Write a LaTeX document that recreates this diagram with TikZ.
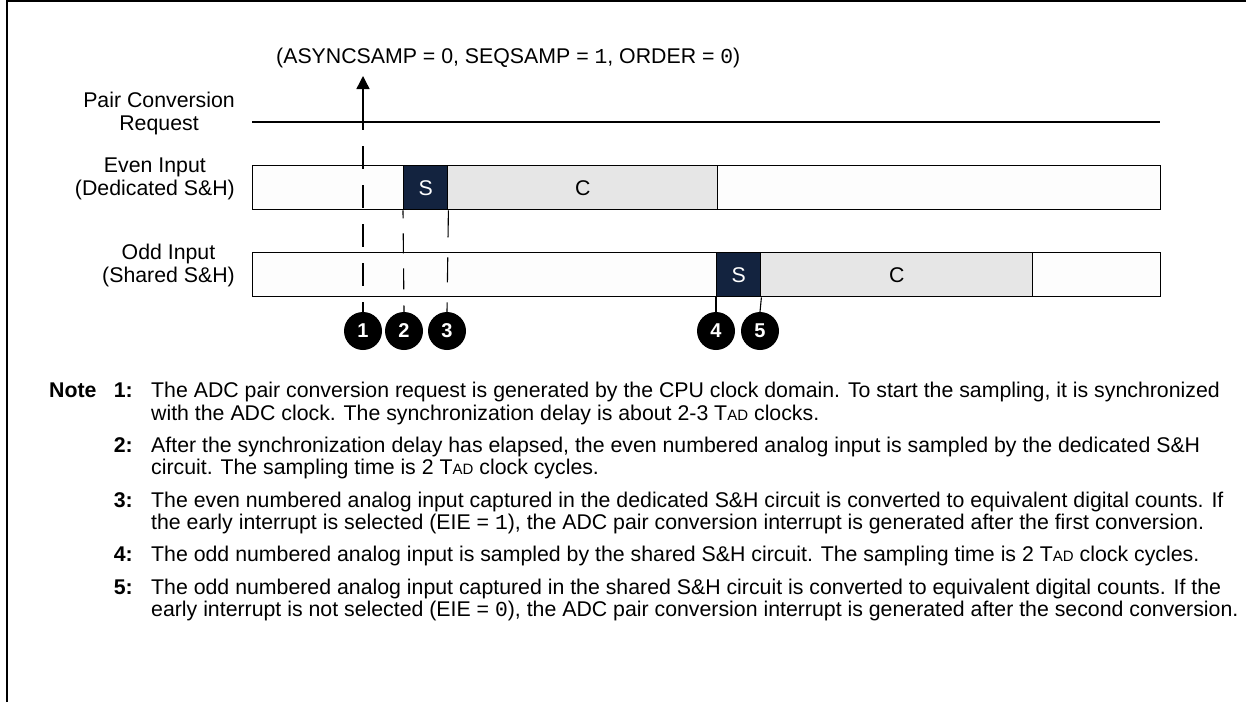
\documentclass[tikz,border=0pt]{standalone}
\usepackage{fontspec}
\setmainfont{Liberation Sans}
\setmonofont{Liberation Mono}
\usetikzlibrary{arrows.meta}
\definecolor{sboxfill}{HTML}{13233F}
\definecolor{cboxfill}{HTML}{E6E6E6}
\definecolor{idlefill}{HTML}{FDFDFD}
% T with a small-caps "AD" suffix
\newcommand\tadclk{T{\fontsize{15}{15}\selectfont AD}}

\tikzset{
  txt/.style={font=\fontsize{21.3}{23}\selectfont, inner sep=0pt},
  rowlabel/.style={txt, align=center, anchor=east, font=\fontsize{21.3}{23}\selectfont},
  track/.style={draw, line width=1.4pt, fill=idlefill, inner sep=0pt, minimum height=44pt, anchor=north west},
  samp/.style={draw, line width=1.4pt, fill=sboxfill, text=white, inner sep=0pt, minimum height=44pt, anchor=north west, txt},
  conv/.style={draw, line width=1.4pt, fill=cboxfill, inner sep=0pt, minimum height=44pt, anchor=north west, txt},
  marker/.style={circle, fill=black, text=white, inner sep=0pt, minimum size=38pt, font=\bfseries\fontsize{20}{20}\selectfont},
  guide/.style={line width=1.1pt, dash pattern=on 23pt off 16pt},
  tick/.style={line width=1.1pt},
  notenum/.style={txt, anchor=base east, font=\bfseries\fontsize{21.3}{23}\selectfont},
  noteline/.style={txt, anchor=base west},
}

\begin{document}
\begin{tikzpicture}[x=1pt,y=-1pt]
\useasboundingbox (0,0) rectangle (1246,702);

% frame edges
\draw[line width=2pt] (7,702) -- (7,1) -- (1246,1);

% header
\node[txt, anchor=base west] (hdr) at (276,63)
  {(ASYNCSAMP = 0, SEQSAMP = \texttt{1}, ORDER = \texttt{0})};

% row labels
\node[rowlabel] (lreq) at (235,113) {Pair Conversion\\Request};
\node[rowlabel] (lev) at (235,179) {Even Input\\(Dedicated S\&H)};
\node[rowlabel] (lod) at (235,265) {Odd Input\\(Shared S\&H)};

% request line and trigger arrow
\coordinate (reqL) at (252,122);
\coordinate (reqR) at (1160,122);
\draw[line width=1.4pt] (reqL) -- (reqR);
\coordinate (trgBase) at (363,122);
\coordinate (trgTip) at (363,76);
\draw[line width=1.4pt, -{Triangle[length=13pt,width=13pt]}] (trgBase) -- (trgTip);
\coordinate (trgDash) at (363,107);

% even input track
\node[track, minimum width=908pt] (even) at (252,165) {};
\node[conv, minimum width=270pt] (evC) at (447,165) {C};
\node[samp, minimum width=44pt] (evS) at (403,165) {S};

% odd input track
\node[track, minimum width=908pt] (odd) at (252,252) {};
\node[conv, minimum width=272pt] (odC) at (760,252) {C};
\node[samp, minimum width=44pt] (odS) at (716,252) {S};

% event markers
\node[marker] (m1) at (363,331) {1};
\node[marker] (m2) at (404,331) {2};
\node[marker] (m3) at (447,331) {3};
\node[marker] (m4) at (716,331) {4};
\node[marker] (m5) at (760,331) {5};

% guide lines down to markers
\draw[guide] (trgDash) -- (m1.north);
\draw[line width=1.1pt, dash pattern=on 8pt off 15pt on 20pt off 15pt on 21pt off 16pt on 20pt]
  (evS.south west) -- (m2.north);
\draw[line width=1.1pt, dash pattern=on 27pt off 20pt on 25pt off 20pt on 25pt]
  (evS.south east) -- (m3.north);
\draw[tick] (odS.south west) -- (m4.north);
\draw[tick] (odS.south east) -- (m5.north);

% notes
\node[notenum, anchor=base west] (nlab) at (49,397) {Note};
\node[notenum] (n1) at (133,397) {1:};
\node[notenum] (n2) at (133,452) {2:};
\node[notenum] (n3) at (133,507) {3:};
\node[notenum] (n4) at (133,561) {4:};
\node[notenum] (n5) at (133,594) {5:};

\node[noteline] (t1a) at (151,397) {The ADC pair conversion request is generated by the CPU clock domain. To start the sampling, it is synchronized};
\node[noteline] (t1b) at (151,420) {with the ADC clock. The synchronization delay is about 2-3 \tadclk{} clocks.};
\node[noteline] (t2a) at (151,452) {After the synchronization delay has elapsed, the even numbered analog input is sampled by the dedicated S\&H};
\node[noteline] (t2b) at (151,474) {circuit. The sampling time is 2 \tadclk{} clock cycles.};
\node[noteline] (t3a) at (151,507) {The even numbered analog input captured in the dedicated S\&H circuit is converted to equivalent digital counts. If};
\node[noteline] (t3b) at (151,529) {the early interrupt is selected (EIE = \texttt{1}), the ADC pair conversion interrupt is generated after the first conversion.};
\node[noteline] (t4a) at (151,561) {The odd numbered analog input is sampled by the shared S\&H circuit. The sampling time is 2 \tadclk{} clock cycles.};
\node[noteline] (t5a) at (151,594) {The odd numbered analog input captured in the shared S\&H circuit is converted to equivalent digital counts. If the};
\node[noteline] (t5b) at (151,616) {early interrupt is not selected (EIE = \texttt{0}), the ADC pair conversion interrupt is generated after the second conversion.};
\end{tikzpicture}
\end{document}
